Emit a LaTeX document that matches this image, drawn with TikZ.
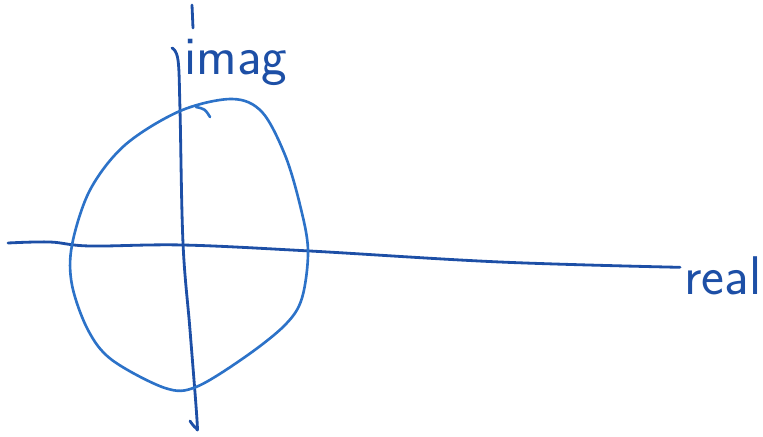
\documentclass[tikz,border=0pt]{standalone}
\usepackage{tikz}
\usetikzlibrary{calc}
\definecolor{sk-axis}{HTML}{1D4FA6}
\definecolor{sk-curve}{HTML}{2C72C8}
\tikzset{
  axisline/.style={sk-axis, line width=1.6pt, line cap=round, line join=round},
  loopline/.style={sk-curve, line width=1.5pt, line cap=round},
  hand/.style={sk-axis, font=\sffamily\fontsize{31}{31}\selectfont, inner sep=0pt}
}

\begin{document}
\begin{tikzpicture}[x=0.02cm, y=-0.02cm]
    \useasboundingbox (0,0) rectangle (763,436);
    % axes ends
    \coordinate (reLeft) at (8,243);
    \coordinate (imTop) at (172,48);
    \coordinate (imBot) at (190,421);
    \node[hand, anchor=base west] (real) at (684,294) {real};
    \node[hand, anchor=base west] (imag) at (184,74) {imag};
    \draw[axisline] plot[smooth, tension=0.6] coordinates {(reLeft) (50,242) (90,246) (183,245) (310,251) (500,262) ($(real.west)+(-4,-8)$)};
    \draw[axisline] plot[smooth, tension=0.6] coordinates {(imTop) (178,60) (180,110) (183,243) (190,330) (197,420) (196,428) (imBot)};
    \draw[axisline] (192,5) -- (193,28);
    % the loop
    \draw[loopline] plot[smooth cycle, tension=0.55] coordinates {(180,111) (232,99) (262,112) (285,155) (300,205) (308,250) (302,298) (285,325) (245,357) (196,387) (165,388) (112,360) (88,330) (72,285) (72,245) (90,190) (125,145)};
    \draw[loopline] (196,107) .. controls (205,109) .. (210,117);
\end{tikzpicture}
\end{document}
